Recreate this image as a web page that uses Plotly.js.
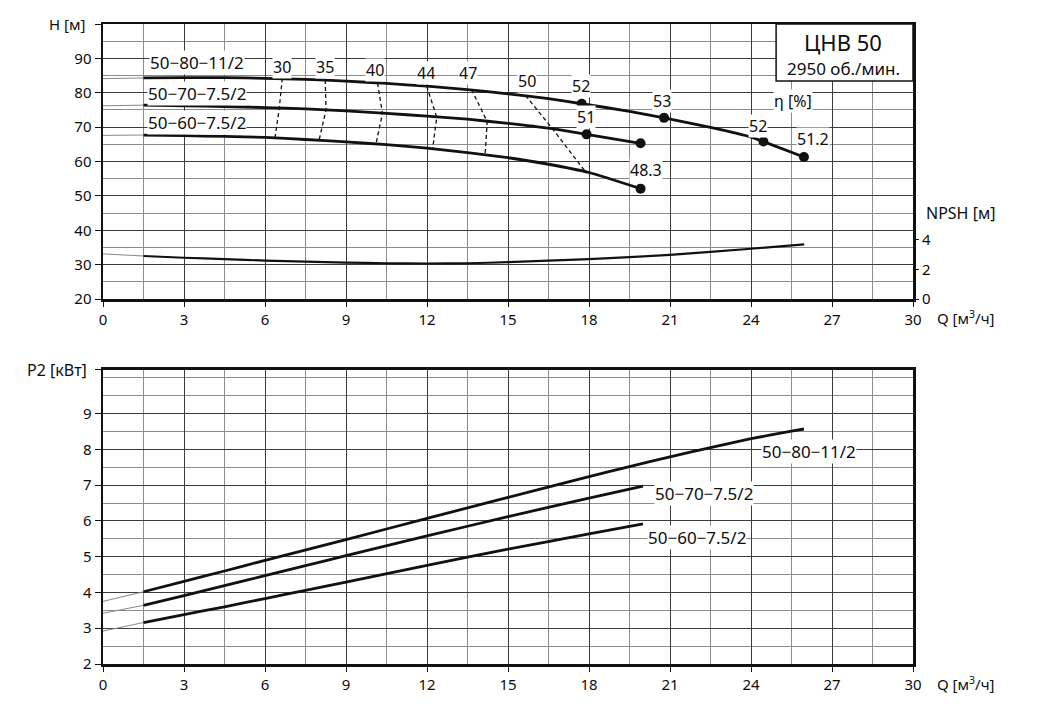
<!DOCTYPE html>
<html>
<head>
<meta charset="utf-8">
<script src="https://cdn.plot.ly/plotly-3.0.1.min.js"></script>
<style>html,body{margin:0;padding:0;background:#fff;}#chart{width:1046px;height:728px;}</style>
</head>
<body>
<div id="chart"></div>
<script>
// ---------- Head curves H(Q) ----------
var q80 = [1.5, 3, 4.5, 6, 7.5, 9, 10.5, 12, 13.5, 15, 16.5, 17.73, 19.5, 20.78, 22.5, 24, 24.46, 25.96];
var h80 = [84.3, 84.4, 84.4, 84.2, 83.9, 83.4, 82.7, 81.9, 80.9, 79.7, 78.3, 76.8, 74.6, 72.7, 69.9, 67.1, 65.8, 61.3];
var q80thin = [0, 1.5];
var h80thin = [84.1, 84.3];

var q70 = [1.5, 3, 4.5, 6, 7.5, 9, 10.5, 12, 13.5, 15, 16.5, 17.91, 19.91];
var h70 = [76.4, 76.2, 76.0, 75.7, 75.3, 74.7, 74.0, 73.2, 72.3, 71.1, 69.7, 67.9, 65.3];
var q70thin = [0, 1.5];
var h70thin = [76.2, 76.4];

var q60 = [1.5, 3, 4.5, 6, 7.5, 9, 10.5, 12, 13.5, 15, 16.5, 18, 19.91];
var h60 = [67.7, 67.5, 67.3, 67.0, 66.4, 65.7, 64.9, 63.9, 62.6, 61.1, 59.2, 56.8, 52.1];
var q60thin = [0, 1.5];
var h60thin = [67.6, 67.7];

// efficiency points (dots)
var dotQ = [17.73, 20.78, 24.46, 25.96, 17.91, 19.91, 19.91];
var dotH = [76.8, 72.7, 65.8, 61.3, 67.9, 65.3, 52.1];

// iso-efficiency dashed lines (top, middle, bottom curve crossings)
var eta30Q = [6.64, 6.53, 6.37],   eta30H = [84.2, 75.6, 66.9];
var eta35Q = [8.23, 8.26, 8.0],    eta35H = [83.7, 75.0, 66.1];
var eta40Q = [10.17, 10.35, 10.11], eta40H = [82.8, 74.0, 65.1];
var eta44Q = [11.99, 12.36, 12.21], eta44H = [81.9, 72.9, 63.7];
var eta47Q = [13.65, 14.23, 14.15], eta47H = [80.9, 71.6, 61.7];
var eta50Q = [15.65, 16.64, 17.88], eta50H = [79.2, 69.6, 56.9];

// ---------- NPSH ----------
var qNpsh = [1.5, 3, 4.5, 6, 7.5, 9, 10.5, 12, 13.5, 15, 18, 21, 24, 25.97];
var npsh = [2.91, 2.79, 2.70, 2.60, 2.53, 2.46, 2.42, 2.40, 2.42, 2.49, 2.70, 2.98, 3.40, 3.70];
var qNpshThin = [0, 1.5];
var npshThin = [3.05, 2.91];

// ---------- Power P2(Q) ----------
var qP80 = [1.5, 3, 4.5, 6, 9, 12, 15, 18, 19.5, 21, 22.5, 24, 25.5, 25.96];
var p80 = [4.02, 4.31, 4.60, 4.90, 5.48, 6.07, 6.66, 7.24, 7.52, 7.79, 8.05, 8.30, 8.51, 8.57];
var qP80thin = [0, 1.5], p80thin = [3.75, 4.02];

var qP70 = [1.5, 3, 4.5, 6, 7.5, 9, 12, 15, 18, 20];
var p70 = [3.64, 3.91, 4.19, 4.47, 4.75, 5.03, 5.58, 6.12, 6.64, 6.97];
var qP70thin = [0, 1.5], p70thin = [3.42, 3.64];

var qP60 = [1.5, 3, 4.5, 6, 7.5, 9, 12, 15, 18, 20];
var p60 = [3.16, 3.38, 3.60, 3.83, 4.06, 4.29, 4.76, 5.21, 5.64, 5.92];
var qP60thin = [0, 1.5], p60thin = [2.92, 3.16];

// ---------- Tick labels ----------
var qTicks = [0, 3, 6, 9, 12, 15, 18, 21, 24, 27, 30];
var hTicks = [20, 30, 40, 50, 60, 70, 80, 90, 100];
var hTickText = ['20', '30', '40', '50', '60', '70', '80', '90', ''];
var npshTicks = [0, 2, 4];
var pTicks = [2, 3, 4, 5, 6, 7, 8, 9, 10.22];
var pTickText = ['2', '3', '4', '5', '6', '7', '8', '9', ''];

var FONT = 'Noto Sans, Open Sans, sans-serif';
var BLACK = '#111';
var TXT = '#0d0d0d';

function line(x, y, xa, ya, w, color) {
  return {type: 'scatter', mode: 'lines', x: x, y: y, xaxis: xa, yaxis: ya,
    line: {color: color, width: w, shape: 'spline', smoothing: 0.5},
    hoverinfo: 'skip', showlegend: false};
}
function dashed(x, y) {
  return {type: 'scatter', mode: 'lines', x: x, y: y, xaxis: 'x', yaxis: 'y',
    line: {color: BLACK, width: 1.3, dash: '4px,3px'}, hoverinfo: 'skip', showlegend: false};
}

var traces = [
  line(q80thin, h80thin, 'x', 'y', 1, '#888'),
  line(q70thin, h70thin, 'x', 'y', 1, '#888'),
  line(q60thin, h60thin, 'x', 'y', 1, '#888'),
  dashed(eta30Q, eta30H), dashed(eta35Q, eta35H), dashed(eta40Q, eta40H),
  dashed(eta44Q, eta44H), dashed(eta47Q, eta47H), dashed(eta50Q, eta50H),
  line(q80, h80, 'x', 'y', 2.8, BLACK),
  line(q70, h70, 'x', 'y', 2.8, BLACK),
  line(q60, h60, 'x', 'y', 2.8, BLACK),
  line(qNpshThin, npshThin, 'x', 'y2', 1, '#888'),
  line(qNpsh, npsh, 'x', 'y2', 2.2, BLACK),
  line(qP80thin, p80thin, 'x2', 'y3', 1, '#888'),
  line(qP70thin, p70thin, 'x2', 'y3', 1, '#888'),
  line(qP60thin, p60thin, 'x2', 'y3', 1, '#888'),
  line(qP80, p80, 'x2', 'y3', 2.8, BLACK),
  line(qP70, p70, 'x2', 'y3', 2.8, BLACK),
  line(qP60, p60, 'x2', 'y3', 2.8, BLACK)
];

var MAJ = '#3c3c3c', MIN = '#8c8c8c';
function xAxis(anchor) {
  return {anchor: anchor, domain: [0, 1], range: [0, 30], tickmode: 'array', tickvals: qTicks,
    showgrid: true, gridcolor: MAJ, gridwidth: 1,
    minor: {tickmode: 'linear', tick0: 0, dtick: 1.5, showgrid: true, gridcolor: MIN, gridwidth: 1},
    showline: true, linecolor: BLACK, linewidth: 2.5, mirror: true,
    ticks: 'outside', ticklen: 5, tickcolor: BLACK, tickwidth: 1,
    tickfont: {family: FONT, size: 15, color: TXT}, zeroline: false, fixedrange: true};
}

var ann = [];
function lab(text, x, y, xref, yref, size, opts) {
  var a = {text: text, x: x, y: y, xref: xref, yref: yref, showarrow: false,
    xanchor: 'center', yanchor: 'middle',
    font: {family: FONT, size: size, color: TXT}, bgcolor: '#ffffff', borderpad: 0};
  if (opts) for (var k in opts) a[k] = opts[k];
  ann.push(a);
}
var NOBG = 'rgba(0,0,0,0)';
// curve names (top)
lab('50\u221280\u221211/2', 3.48, 88.9, 'x', 'y', 17);
lab('50\u221270\u22127.5/2', 3.48, 79.9, 'x', 'y', 17);
lab('50\u221260\u22127.5/2', 3.48, 71.4, 'x', 'y', 17);
// iso efficiency labels
lab('30', 6.63, 87.5, 'x', 'y', 16);
lab('35', 8.22, 87.5, 'x', 'y', 16);
lab('40', 10.07, 86.6, 'x', 'y', 16);
lab('44', 11.96, 85.7, 'x', 'y', 16);
lab('47', 13.52, 85.7, 'x', 'y', 16);
lab('50', 15.7, 83.3, 'x', 'y', 16);
lab('52', 17.7, 81.9, 'x', 'y', 16);
lab('53', 20.7, 77.6, 'x', 'y', 16);
lab('51', 17.9, 72.9, 'x', 'y', 16);
lab('\u03b7 [%]', 25.56, 77.6, 'x', 'y', 16);
lab('52', 24.26, 70.4, 'x', 'y', 16);
lab('51.2', 26.3, 66.6, 'x', 'y', 16);
lab('48.3', 20.1, 57.6, 'x', 'y', 16);
// box text
lab('\u0426\u041d\u0412 50', 0.9136, 0.972, 'paper', 'paper', 22, {bgcolor: NOBG});
lab('2950 \u043e\u0431./\u043c\u0438\u043d.', 0.9148, 0.931, 'paper', 'paper', 17, {bgcolor: NOBG});
// axis titles
lab('H [\u043c]', -0.021, 1.0, 'paper', 'paper', 15, {xanchor: 'right', bgcolor: NOBG});
lab('NPSH [\u043c]', 1.0148, 0.7047, 'paper', 'paper', 16, {xanchor: 'left', bgcolor: NOBG});
lab('Q [\u043c<sup>3</sup>/\u0447]', 1.028, 0.541, 'paper', 'paper', 15, {xanchor: 'left', bgcolor: NOBG});
lab('P2 [\u043a\u0412\u0442]', -0.019, 0.4594, 'paper', 'paper', 16, {xanchor: 'right', bgcolor: NOBG});
lab('Q [\u043c<sup>3</sup>/\u0447]', 1.028, -0.0297, 'paper', 'paper', 15, {xanchor: 'left', bgcolor: NOBG});
// curve names (bottom)
lab('50\u221280\u221211/2', 26.15, 7.94, 'x2', 'y3', 17);
lab('50\u221270\u22127.5/2', 22.26, 6.77, 'x2', 'y3', 17);
lab('50\u221260\u22127.5/2', 22.0, 5.54, 'x2', 'y3', 17);

var layout = {
  width: 1046, height: 728,
  margin: {l: 103, r: 133, t: 24, b: 64},
  paper_bgcolor: '#fff', plot_bgcolor: '#fff',
  showlegend: false,
  font: {family: FONT, size: 15, color: TXT},
  xaxis: xAxis('y'),
  xaxis2: xAxis('y3'),
  yaxis: {domain: [0.5703, 1], range: [20, 100], tickmode: 'array', tickvals: hTicks, ticktext: hTickText,
    showgrid: true, gridcolor: MAJ, gridwidth: 1,
    minor: {tickmode: 'linear', tick0: 0, dtick: 5, showgrid: true, gridcolor: MIN, gridwidth: 1},
    showline: true, linecolor: BLACK, linewidth: 2.5, mirror: true,
    ticks: 'outside', ticklen: 6, tickcolor: BLACK, tickwidth: 1,
    tickfont: {family: FONT, size: 15, color: TXT}, zeroline: false, fixedrange: true},
  yaxis2: {overlaying: 'y', side: 'right', anchor: 'x', range: [0, 18.6], tickmode: 'array', tickvals: npshTicks,
    showgrid: false, showline: false, zeroline: false,
    ticks: 'outside', ticklen: 5, tickcolor: BLACK, tickwidth: 1,
    tickfont: {family: FONT, size: 15, color: TXT}, fixedrange: true},
  yaxis3: {domain: [0, 0.4594], anchor: 'x2', range: [2, 10.22], tickmode: 'array', tickvals: pTicks, ticktext: pTickText,
    showgrid: true, gridcolor: MAJ, gridwidth: 1,
    minor: {tickmode: 'linear', tick0: 0, dtick: 0.5, showgrid: true, gridcolor: MIN, gridwidth: 1},
    showline: true, linecolor: BLACK, linewidth: 2.5, mirror: true,
    ticks: 'outside', ticklen: 6, tickcolor: BLACK, tickwidth: 1,
    tickfont: {family: FONT, size: 15, color: TXT}, zeroline: false, fixedrange: true},
  shapes: [
    {type: 'rect', xref: 'x domain', yref: 'y domain', x0: 0.831, x1: 1, y0: 0.793, y1: 1,
     fillcolor: '#fff', line: {color: BLACK, width: 1.5}, layer: 'above'}
  ],
  annotations: ann
};

// dots drawn last so they sit above label backgrounds
traces.push({type: 'scatter', mode: 'markers', x: dotQ, y: dotH, xaxis: 'x', yaxis: 'y',
   marker: {color: BLACK, size: 10}, hoverinfo: 'skip', showlegend: false});

Plotly.newPlot('chart', traces, layout, {staticPlot: true, displayModeBar: false});
</script>
</body>
</html>
